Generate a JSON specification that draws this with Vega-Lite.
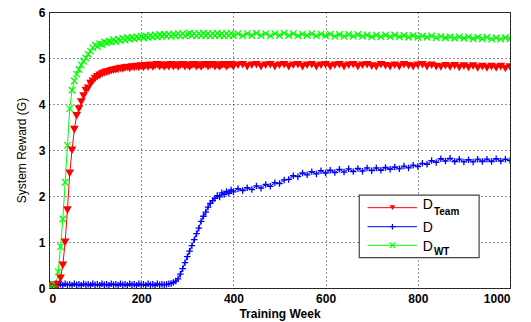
{
  "$schema": "https://vega.github.io/schema/vega-lite/v6.json",
  "width": 461,
  "height": 276,
  "autosize": {"type": "none"},
  "padding": {"left": 49, "top": 12, "right": 21, "bottom": 34},
  "background": "white",
  "config": {
    "view": {"stroke": "#333", "strokeWidth": 1},
    "font": "Liberation Sans",
    "axis": {
      "grid": true, "gridColor": "#000", "gridDash": [1, 3], "gridOpacity": 0.85,
      "domain": false, "ticks": false,
      "labelFont": "Liberation Sans", "labelFontWeight": "bold", "labelFontSize": 12, "labelColor": "#000",
      "titleFont": "Liberation Sans", "titleColor": "#000", "titleFontSize": 12
    }
  },
  "datasets": {
    "rw": [
      {"w":0,"t":0.05,"d":0.06,"g":0.07},{"w":5,"t":0.06,"d":0.08,"g":0.05},{"w":10,"t":0.04,"d":0.07,"g":0.08},{"w":15,"t":0.06,"d":0.09,"g":0.06},
      {"w":20,"t":0.08,"d":0.07,"g":0.35},{"w":25,"t":0.22,"d":0.08,"g":0.9},{"w":30,"t":0.5,"d":0.06,"g":1.5},{"w":35,"t":1.0,"d":0.09,"g":2.3},
      {"w":40,"t":1.7,"d":0.07,"g":3.1},{"w":45,"t":2.5,"d":0.08,"g":3.9},{"w":50,"t":3.0,"d":0.06,"g":4.3},{"w":55,"t":3.45,"d":0.09,"g":4.5},
      {"w":60,"t":3.75,"d":0.07,"g":4.65},{"w":65,"t":3.9,"d":0.08,"g":4.75},{"w":70,"t":4.05,"d":0.06,"g":4.85},{"w":75,"t":4.18,"d":0.09,"g":4.93},
      {"w":80,"t":4.3,"d":0.07,"g":5.0},{"w":85,"t":4.35,"d":0.08,"g":5.08},{"w":90,"t":4.45,"d":0.06,"g":5.15},{"w":95,"t":4.5,"d":0.09,"g":5.22},
      {"w":100,"t":4.56,"d":0.07,"g":5.28},{"w":105,"t":4.6,"d":0.08,"g":5.25},{"w":110,"t":4.63,"d":0.06,"g":5.31},{"w":115,"t":4.66,"d":0.09,"g":5.3},
      {"w":120,"t":4.68,"d":0.07,"g":5.35},{"w":125,"t":4.7,"d":0.08,"g":5.33},{"w":130,"t":4.71,"d":0.06,"g":5.36},{"w":135,"t":4.73,"d":0.09,"g":5.35},
      {"w":140,"t":4.74,"d":0.07,"g":5.4},{"w":145,"t":4.75,"d":0.08,"g":5.36},{"w":150,"t":4.76,"d":0.06,"g":5.41},{"w":155,"t":4.78,"d":0.09,"g":5.38},
      {"w":160,"t":4.77,"d":0.07,"g":5.43},{"w":165,"t":4.79,"d":0.08,"g":5.39},{"w":170,"t":4.8,"d":0.06,"g":5.44},{"w":175,"t":4.78,"d":0.09,"g":5.41},
      {"w":180,"t":4.81,"d":0.07,"g":5.45},{"w":185,"t":4.8,"d":0.08,"g":5.42},{"w":190,"t":4.82,"d":0.06,"g":5.46},{"w":195,"t":4.8,"d":0.09,"g":5.43},
      {"w":200,"t":4.83,"d":0.07,"g":5.47},{"w":205,"t":4.8,"d":0.08,"g":5.44},{"w":210,"t":4.84,"d":0.06,"g":5.48},{"w":215,"t":4.81,"d":0.09,"g":5.45},
      {"w":220,"t":4.85,"d":0.07,"g":5.49},{"w":225,"t":4.81,"d":0.08,"g":5.46},{"w":230,"t":4.84,"d":0.06,"g":5.5},{"w":235,"t":4.86,"d":0.09,"g":5.46},
      {"w":240,"t":4.82,"d":0.07,"g":5.51},{"w":245,"t":4.85,"d":0.08,"g":5.47},{"w":250,"t":4.81,"d":0.07,"g":5.51},{"w":255,"t":4.85,"d":0.08,"g":5.48},
      {"w":260,"t":4.82,"d":0.09,"g":5.52},{"w":265,"t":4.86,"d":0.1,"g":5.47},{"w":270,"t":4.82,"d":0.12,"g":5.52},{"w":275,"t":4.85,"d":0.15,"g":5.48},
      {"w":280,"t":4.81,"d":0.2,"g":5.53},{"w":285,"t":4.85,"d":0.3,"g":5.48},{"w":290,"t":4.86,"d":0.42,"g":5.53},{"w":295,"t":4.82,"d":0.55,"g":5.48},
      {"w":300,"t":4.85,"d":0.68,"g":5.52},{"w":305,"t":4.81,"d":0.8,"g":5.54},{"w":310,"t":4.85,"d":0.92,"g":5.49},{"w":315,"t":4.86,"d":1.05,"g":5.53},
      {"w":320,"t":4.82,"d":1.18,"g":5.48},{"w":325,"t":4.85,"d":1.3,"g":5.53},{"w":330,"t":4.81,"d":1.45,"g":5.49},{"w":335,"t":4.85,"d":1.56,"g":5.54},
      {"w":340,"t":4.86,"d":1.65,"g":5.49},{"w":345,"t":4.82,"d":1.76,"g":5.53},{"w":350,"t":4.85,"d":1.84,"g":5.48},{"w":355,"t":4.86,"d":1.9,"g":5.53},
      {"w":360,"t":4.82,"d":1.95,"g":5.49},{"w":365,"t":4.85,"d":2.01,"g":5.54},{"w":370,"t":4.81,"d":1.98,"g":5.49},{"w":375,"t":4.85,"d":2.07,"g":5.53},
      {"w":380,"t":4.86,"d":2.03,"g":5.48},{"w":385,"t":4.82,"d":2.1,"g":5.53},{"w":390,"t":4.85,"d":2.06,"g":5.49},{"w":395,"t":4.86,"d":2.13,"g":5.54},
      {"w":400,"t":4.82,"d":2.09,"g":5.49},{"w":410,"t":4.85,"d":2.16,"g":5.53},{"w":420,"t":4.86,"d":2.12,"g":5.48},{"w":430,"t":4.82,"d":2.18,"g":5.53},
      {"w":440,"t":4.85,"d":2.14,"g":5.49},{"w":450,"t":4.86,"d":2.22,"g":5.54},{"w":460,"t":4.82,"d":2.17,"g":5.49},{"w":470,"t":4.85,"d":2.25,"g":5.53},
      {"w":480,"t":4.86,"d":2.21,"g":5.48},{"w":490,"t":4.82,"d":2.29,"g":5.53},{"w":500,"t":4.85,"d":2.27,"g":5.49},{"w":510,"t":4.86,"d":2.35,"g":5.54},
      {"w":520,"t":4.82,"d":2.36,"g":5.49},{"w":530,"t":4.85,"d":2.44,"g":5.53},{"w":540,"t":4.86,"d":2.42,"g":5.48},{"w":550,"t":4.82,"d":2.5,"g":5.52},
      {"w":560,"t":4.85,"d":2.46,"g":5.49},{"w":570,"t":4.86,"d":2.53,"g":5.53},{"w":580,"t":4.82,"d":2.48,"g":5.48},{"w":590,"t":4.85,"d":2.55,"g":5.52},
      {"w":600,"t":4.86,"d":2.5,"g":5.48},{"w":610,"t":4.82,"d":2.56,"g":5.52},{"w":620,"t":4.85,"d":2.51,"g":5.47},{"w":630,"t":4.86,"d":2.58,"g":5.51},
      {"w":640,"t":4.82,"d":2.52,"g":5.47},{"w":650,"t":4.85,"d":2.59,"g":5.51},{"w":660,"t":4.86,"d":2.53,"g":5.47},{"w":670,"t":4.82,"d":2.6,"g":5.51},
      {"w":680,"t":4.85,"d":2.54,"g":5.47},{"w":690,"t":4.86,"d":2.61,"g":5.5},{"w":700,"t":4.83,"d":2.55,"g":5.46},{"w":710,"t":4.82,"d":2.61,"g":5.5},
      {"w":720,"t":4.86,"d":2.56,"g":5.46},{"w":730,"t":4.84,"d":2.62,"g":5.5},{"w":740,"t":4.82,"d":2.58,"g":5.46},{"w":750,"t":4.85,"d":2.63,"g":5.5},
      {"w":760,"t":4.82,"d":2.59,"g":5.46},{"w":770,"t":4.86,"d":2.65,"g":5.49},{"w":780,"t":4.84,"d":2.61,"g":5.45},{"w":790,"t":4.82,"d":2.67,"g":5.49},
      {"w":800,"t":4.85,"d":2.64,"g":5.45},{"w":810,"t":4.86,"d":2.71,"g":5.48},{"w":820,"t":4.82,"d":2.69,"g":5.45},{"w":830,"t":4.85,"d":2.77,"g":5.48},
      {"w":840,"t":4.82,"d":2.73,"g":5.44},{"w":850,"t":4.81,"d":2.81,"g":5.47},{"w":860,"t":4.84,"d":2.76,"g":5.44},{"w":870,"t":4.81,"d":2.82,"g":5.46},
      {"w":880,"t":4.84,"d":2.75,"g":5.43},{"w":890,"t":4.8,"d":2.8,"g":5.46},{"w":900,"t":4.83,"d":2.74,"g":5.43},{"w":910,"t":4.8,"d":2.79,"g":5.46},
      {"w":920,"t":4.83,"d":2.74,"g":5.42},{"w":930,"t":4.79,"d":2.8,"g":5.45},{"w":940,"t":4.82,"d":2.75,"g":5.42},{"w":950,"t":4.79,"d":2.8,"g":5.45},
      {"w":960,"t":4.82,"d":2.75,"g":5.41},{"w":970,"t":4.79,"d":2.81,"g":5.44},{"w":980,"t":4.82,"d":2.76,"g":5.41},{"w":990,"t":4.78,"d":2.8,"g":5.44},
      {"w":1000,"t":4.81,"d":2.77,"g":5.42}
    ]
  },
  "layer": [
    {
      "data": {"name": "rw"},
      "transform": [{"fold": ["d", "t", "g"], "as": ["s", "v"]}],
      "mark": {"type": "line", "strokeWidth": 1, "clip": true},
      "encoding": {
        "x": {"field": "w", "type": "quantitative", "scale": {"domain": [0, 1000], "nice": false},
          "axis": {"title": "Training Week", "titleFontWeight": "bold", "values": [0, 200, 400, 600, 800, 1000], "format": "d", "labelPadding": 5, "titlePadding": 4}},
        "y": {"field": "v", "type": "quantitative", "scale": {"domain": [0, 6], "nice": false},
          "axis": {"title": "System Reward (G)", "titleFontWeight": "normal", "values": [0, 1, 2, 3, 4, 5, 6], "format": "d", "labelPadding": 4, "titlePadding": 10}},
        "color": {"field": "s", "type": "nominal", "scale": {"domain": ["t", "d", "g"], "range": ["#ff0000", "#0000ff", "#00ff00"]}, "legend": null},
        "order": {"field": "w", "type": "quantitative"}
      }
    },
    {
      "data": {"name": "rw"},
      "transform": [{"fold": ["d", "t", "g"], "as": ["s", "v"]}],
      "mark": {"type": "point", "filled": true, "size": 42, "strokeWidth": 1.3, "opacity": 1, "clip": true},
      "encoding": {
        "x": {"field": "w", "type": "quantitative"},
        "y": {"field": "v", "type": "quantitative"},
        "shape": {"field": "s", "type": "nominal", "scale": {"domain": ["t", "d", "g"], "range": ["triangle-down", "M-1,0L1,0M0,-1L0,1", "M-1,-1L1,1M-1,1L1,-1"]}, "legend": null},
        "fill": {"field": "s", "type": "nominal", "scale": {"domain": ["t", "d", "g"], "range": ["#ff0000", "transparent", "transparent"]}, "legend": null},
        "stroke": {"field": "s", "type": "nominal", "scale": {"domain": ["t", "d", "g"], "range": ["#ff0000", "#0000ff", "#00ff00"]}, "legend": null}
      }
    },
    {
      "data": {"values": [{}]},
      "mark": {"type": "rect", "fill": "white", "stroke": "#444", "strokeWidth": 1.2},
      "encoding": {"x": {"datum": 673}, "x2": {"datum": 933}, "y": {"datum": 2.02}, "y2": {"datum": 0.66}}
    },
    {
      "data": {"values": [{}]},
      "mark": {"type": "rule", "color": "#ff0000", "strokeWidth": 1},
      "encoding": {"x": {"datum": 691}, "x2": {"datum": 798}, "y": {"datum": 1.746}}
    },
    {
      "data": {"values": [{}]},
      "mark": {"type": "rule", "color": "#0000ff", "strokeWidth": 1},
      "encoding": {"x": {"datum": 691}, "x2": {"datum": 798}, "y": {"datum": 1.333}}
    },
    {
      "data": {"values": [{}]},
      "mark": {"type": "rule", "color": "#00ff00", "strokeWidth": 1},
      "encoding": {"x": {"datum": 691}, "x2": {"datum": 798}, "y": {"datum": 0.928}}
    },
    {
      "data": {"values": [{}]},
      "mark": {"type": "point", "shape": "triangle-down", "filled": true, "color": "#ff0000", "size": 30, "opacity": 1},
      "encoding": {"x": {"datum": 745}, "y": {"datum": 1.746}}
    },
    {
      "data": {"values": [{}]},
      "mark": {"type": "point", "shape": "M-1,0L1,0M0,-1L0,1", "filled": false, "color": "#0000ff", "size": 30, "strokeWidth": 1.2, "opacity": 1},
      "encoding": {"x": {"datum": 745}, "y": {"datum": 1.333}}
    },
    {
      "data": {"values": [{}]},
      "mark": {"type": "point", "shape": "M-1,-1L1,1M-1,1L1,-1", "filled": false, "color": "#00ff00", "size": 30, "strokeWidth": 1.2, "opacity": 1},
      "encoding": {"x": {"datum": 745}, "y": {"datum": 0.928}}
    },
    {
      "data": {"values": [{}]},
      "mark": {"type": "text", "text": "D", "align": "left", "baseline": "alphabetic", "fontSize": 14, "font": "Liberation Sans", "color": "#000"},
      "encoding": {"x": {"datum": 811}, "y": {"datum": 1.717}}
    },
    {
      "data": {"values": [{}]},
      "mark": {"type": "text", "text": "Team", "align": "left", "baseline": "alphabetic", "fontSize": 10, "fontWeight": "bold", "font": "Liberation Sans", "color": "#000"},
      "encoding": {"x": {"datum": 835}, "y": {"datum": 1.587}}
    },
    {
      "data": {"values": [{}]},
      "mark": {"type": "text", "text": "D", "align": "left", "baseline": "alphabetic", "fontSize": 14, "font": "Liberation Sans", "color": "#000"},
      "encoding": {"x": {"datum": 811}, "y": {"datum": 1.211}}
    },
    {
      "data": {"values": [{}]},
      "mark": {"type": "text", "text": "D", "align": "left", "baseline": "alphabetic", "fontSize": 14, "font": "Liberation Sans", "color": "#000"},
      "encoding": {"x": {"datum": 811}, "y": {"datum": 0.811}}
    },
    {
      "data": {"values": [{}]},
      "mark": {"type": "text", "text": "WT", "align": "left", "baseline": "alphabetic", "fontSize": 10, "fontWeight": "bold", "font": "Liberation Sans", "color": "#000"},
      "encoding": {"x": {"datum": 835}, "y": {"datum": 0.717}}
    }
  ]
}
